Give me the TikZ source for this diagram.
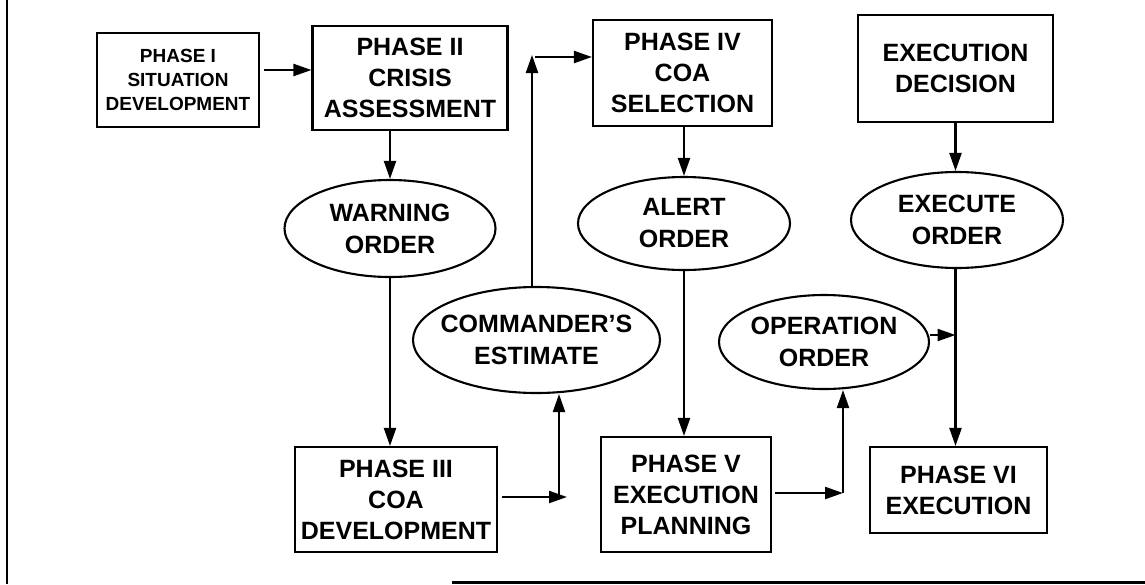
\documentclass[tikz,border=0pt]{standalone}
\usepackage{fontspec}
\setmainfont{Liberation Sans}
\usetikzlibrary{arrows.meta,shapes.geometric}
\begin{document}
\begin{tikzpicture}[x=1pt,y=-1pt,
  box/.style={draw,line width=2.1pt,rectangle,inner sep=0pt,align=center,font=\fontsize{25}{31}\selectfont\bfseries},
  oval/.style={draw,line width=2.1pt,ellipse,inner sep=0pt},
  otext/.style={align=center,inner sep=0pt,font=\fontsize{25}{32}\selectfont\bfseries},
  arr/.style={line width=2.2pt,-{Triangle[length=18pt,width=12pt]}},
  ln/.style={line width=2.2pt}]
\useasboundingbox (0,0) rectangle (1145,584);
% frame
\draw[line width=2.2pt] (7,0) -- (7,584);
\draw[line width=2.6pt] (452,582.5) -- (1145,582.5);
% boxes
\node[box,minimum width=162pt,minimum height=94pt,font=\fontsize{19}{24}\selectfont\bfseries] (p1) at (178,80) {PHASE I\\SITUATION\\DEVELOPMENT};
\node[box,minimum width=195pt,minimum height=104pt] (p2) at (410,78) {PHASE II\\CRISIS\\ASSESSMENT};
\node[box,minimum width=179pt,minimum height=106pt] (p4) at (682.5,73) {PHASE IV\\COA\\SELECTION};
\node[box,minimum width=195pt,minimum height=107pt] (ed) at (955.5,68.5) {EXECUTION\\DECISION};
\node[box,minimum width=202pt,minimum height=105pt] (p3) at (396,499.5) {PHASE III\\COA\\DEVELOPMENT};
\node[box,minimum width=170pt,minimum height=115pt] (p5) at (686,494.5) {PHASE V\\EXECUTION\\PLANNING};
\node[box,minimum width=177pt,minimum height=86pt] (p6) at (958.5,490) {PHASE VI\\EXECUTION};
% ellipses
\node[oval,minimum width=211pt,minimum height=97pt] (wo) at (390,228.5) {};
\node[otext] (wot) at (wo) {WARNING\\ORDER};
\node[oval,minimum width=212pt,minimum height=93pt] (ao) at (684,223.5) {};
\node[otext] (aot) at (ao) {ALERT\\ORDER};
\node[oval,minimum width=212pt,minimum height=96pt] (eo) at (957,220) {};
\node[otext] (eot) at (eo) {EXECUTE\\ORDER};
\node[oval,minimum width=247pt,minimum height=106pt] (ce) at (536.5,340) {};
\node[otext] (cet) at (ce) {COMMANDER'S\\ESTIMATE};
\node[oval,minimum width=210pt,minimum height=94pt] (oo) at (824,342) {};
\node[otext] (oot) at (oo) {OPERATION\\ORDER};
% junction coordinates
\coordinate (y70) at (0,70);
\coordinate (j1) at (559,497);
\coordinate (j1h) at (567,497);
\coordinate (j2) at (532,55);
\coordinate (j2b) at (535,57);
\coordinate (j3) at (843,493);
% connectors
\draw[arr,shorten <=4pt] (p1.east |- y70) -- (p2.west |- y70);
\draw[arr] (wo.north |- p2.south) -- (wo.north);
\draw[arr] (wo.south) -- (wo.south |- p3.north);
\draw[arr,shorten <=4pt] (p3.east |- j1) -- (j1h);
\draw[arr] (j1) -- (j1 |- ce.south);
\draw[arr] (j2 |- ce.north) -- (j2);
\draw[arr] (j2b) -- (p4.west |- j2b);
\draw[arr] (ao.north |- p4.south) -- (ao.north);
\draw[arr] (ao.south) -- (ao.south |- p5.north);
\draw[arr,shorten <=3pt] (p5.east |- j3) -- (j3);
\draw[arr] (j3) -- (j3 |- oo.south);
\draw[arr] (ed.south) -- (ed.south |- eo.north);
\draw[arr] (ed.south |- eo.south) -- (ed.south |- p6.north);
\draw[arr] ([yshift=7pt]oo.east) -- ([yshift=7pt]oo.east -| ed.south);
\end{tikzpicture}
\end{document}
